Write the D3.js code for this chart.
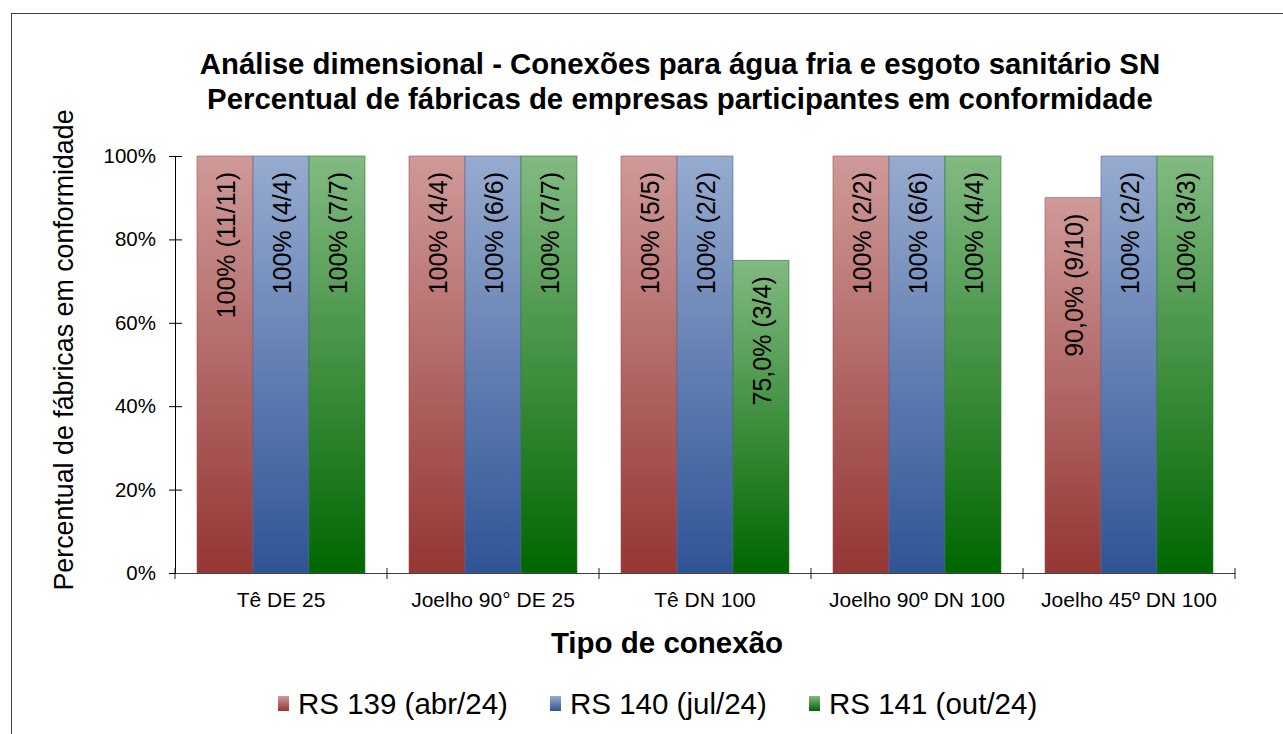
<!DOCTYPE html>
<html>
<head>
<meta charset="utf-8">
<script src="https://cdn.jsdelivr.net/npm/d3@7"></script>
<style>
  html, body { margin: 0; padding: 0; background: #fff; }
  svg { display: block; font-family: "Liberation Sans", Arial, sans-serif; }
</style>
</head>
<body>
<div id="chart"></div>
<script>
const categories = ['Tê DE 25', 'Joelho 90° DE 25', 'Tê DN 100', 'Joelho 90º DN 100', 'Joelho 45º DN 100'];
const seriesNames = ['RS 139 (abr/24)', 'RS 140 (jul/24)', 'RS 141 (out/24)'];
const rs139 = [100, 100, 100, 100, 90];
const rs140 = [100, 100, 100, 100, 100];
const rs141 = [100, 100, 75, 100, 100];
const labels139 = ['100% (11/11)', '100% (4/4)', '100% (5/5)', '100% (2/2)', '90,0% (9/10)'];
const labels140 = ['100% (4/4)', '100% (6/6)', '100% (2/2)', '100% (6/6)', '100% (2/2)'];
const labels141 = ['100% (7/7)', '100% (7/7)', '75,0% (3/4)', '100% (4/4)', '100% (3/3)'];
const yTicks = [0, 20, 40, 60, 80, 100];

const width = 1283;
const height = 734;
const margin = { left: 175, right: 48, top: 156, bottom: 161 };
const font = '"Liberation Sans", Arial, sans-serif';

const colors = [
  { top: '#cf9a99', bottom: '#943634', stroke: '#a05050' },
  { top: '#97abcf', bottom: '#2f5496', stroke: '#4a6aa0' },
  { top: '#82ba82', bottom: '#006600', stroke: '#2f7f2f' }
];

const values = [rs139, rs140, rs141];
const labelSets = [labels139, labels140, labels141];

const svg = d3.select('#chart').append('svg')
  .attr('width', width).attr('height', height);

// chart border
svg.append('rect')
  .attr('x', 11.5).attr('y', 13.5)
  .attr('width', width + 10).attr('height', height + 10)
  .attr('fill', 'none').attr('stroke', '#404040').attr('stroke-width', 1);

const defs = svg.append('defs');
colors.forEach((c, i) => {
  const g = defs.append('linearGradient').attr('id', 'grad' + i)
    .attr('x1', 0).attr('y1', 0).attr('x2', 0).attr('y2', 1);
  g.append('stop').attr('offset', '0%').attr('stop-color', c.top);
  g.append('stop').attr('offset', '100%').attr('stop-color', c.bottom);
});

const innerWidth = width - margin.left - margin.right;
const innerHeight = height - margin.top - margin.bottom;

const x = d3.scaleBand().domain(categories).range([0, innerWidth]).paddingInner(0).paddingOuter(0);
const groupPad = 22;
const x1 = d3.scaleBand().domain(d3.range(seriesNames.length))
  .range([groupPad, x.bandwidth() - groupPad]);
const y = d3.scaleLinear().domain([0, 100]).range([innerHeight, 0]);

const g = svg.append('g').attr('transform', `translate(${margin.left},${margin.top})`);

// bars
values.forEach((vals, s) => {
  const data = categories.map((c, i) => ({ c, v: vals[i], label: labelSets[s][i] }));
  g.selectAll('.bar' + s)
    .data(data)
    .join('rect')
    .attr('x', d => x(d.c) + x1(s))
    .attr('y', d => y(d.v))
    .attr('width', x1.bandwidth())
    .attr('height', d => innerHeight - y(d.v))
    .attr('fill', `url(#grad${s})`)
    .attr('stroke', colors[s].stroke)
    .attr('stroke-width', 0.6);

  g.selectAll('.lab' + s)
    .data(data)
    .join('text')
    .attr('transform', d => `translate(${x(d.c) + x1(s) + x1.bandwidth() / 2 + 1},${y(d.v) + 16}) rotate(-90)`)
    .attr('text-anchor', 'end')
    .attr('dominant-baseline', 'central')
    .attr('font-size', 25)
    .attr('fill', '#000')
    .text(d => d.label);
});

// y axis
const yAxis = g.append('g')
  .call(d3.axisLeft(y).tickValues(yTicks).tickFormat(d => d + '%').tickSizeInner(6).tickSizeOuter(0));
yAxis.select('.domain').attr('stroke', '#000');
yAxis.selectAll('.tick line').attr('x1', -6).attr('x2', 7).attr('stroke', '#000');
yAxis.selectAll('.tick text').attr('x', -19).attr('font-size', 20.5).attr('fill', '#000')
  .attr('font-family', font);

// x axis
const xAxis = g.append('g').attr('transform', `translate(0,${innerHeight})`)
  .call(d3.axisBottom(x).tickSize(0).tickSizeOuter(0));
xAxis.select('.domain').attr('stroke', '#404040');
xAxis.selectAll('.tick text').attr('y', 34).attr('dy', 0).attr('font-size', 21).attr('fill', '#000')
  .attr('font-family', font);
const boundaries = d3.range(categories.length + 1).map(i => i * x.step());
xAxis.selectAll('.sep')
  .data(boundaries)
  .join('line')
  .attr('x1', d => d).attr('x2', d => d)
  .attr('y1', -5).attr('y2', 6)
  .attr('stroke', '#202020');

// titles
svg.append('text')
  .attr('x', 680).attr('y', 74)
  .attr('text-anchor', 'middle').attr('font-size', 29.4).attr('font-weight', 'bold')
  .text('Análise dimensional - Conexões para água fria e esgoto sanitário SN');
svg.append('text')
  .attr('x', 680).attr('y', 108.5)
  .attr('text-anchor', 'middle').attr('font-size', 29.4).attr('font-weight', 'bold')
  .text('Percentual de fábricas de empresas participantes em conformidade');

svg.append('text')
  .attr('transform', 'translate(73,350) rotate(-90)')
  .attr('text-anchor', 'middle').attr('font-size', 26.8)
  .text('Percentual de fábricas em conformidade');

svg.append('text')
  .attr('x', 667).attr('y', 653)
  .attr('text-anchor', 'middle').attr('font-size', 29.5).attr('font-weight', 'bold')
  .text('Tipo de conexão');

// legend
const legendX = [298, 570, 829];
const legend = svg.append('g');
seriesNames.forEach((name, i) => {
  legend.append('rect')
    .attr('x', legendX[i] - 20).attr('y', 696)
    .attr('width', 11).attr('height', 15)
    .attr('fill', `url(#grad${i})`);
  legend.append('text')
    .attr('x', legendX[i]).attr('y', 714)
    .attr('font-size', 29.5)
    .text(name);
});
</script>
</body>
</html>
